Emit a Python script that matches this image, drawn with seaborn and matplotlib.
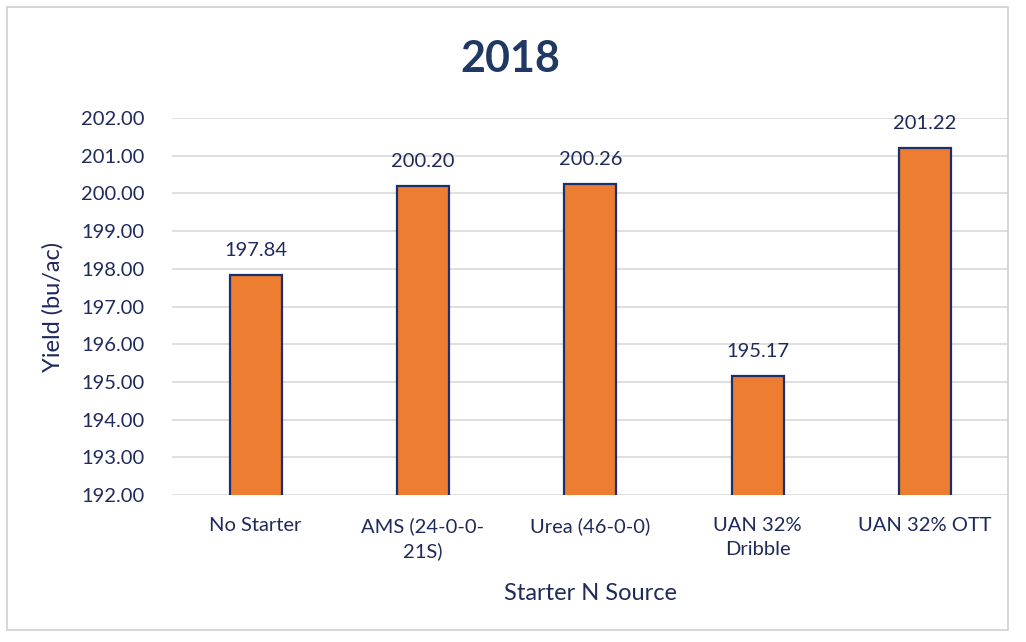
import matplotlib
matplotlib.use("Agg")
import matplotlib.pyplot as plt
import seaborn as sns
import pandas as pd
from matplotlib.patches import Rectangle

# data
sources = ["No Starter", "AMS (24-0-0-\n21S)", "Urea (46-0-0)", "UAN 32%\nDribble", "UAN 32% OTT"]
yields = [197.84, 200.20, 200.26, 195.17, 201.22]
yticks = [192, 193, 194, 195, 196, 197, 198, 199, 200, 201, 202]

df = pd.DataFrame({"source": sources, "yield": yields})

sns.set_style("white")
plt.rcParams["font.family"] = ["Lato", "DejaVu Sans"]
navy = "#1f2a5c"

fig = plt.figure(figsize=(10.26, 6.42), dpi=100)
ax = fig.add_axes([0.1676, 0.229, 0.8157, 0.587])

sns.barplot(data=df, x="source", y="yield", color="#ED7D31", width=0.31,
            edgecolor="#1a2f6b", linewidth=1.6, saturation=1, ax=ax, zorder=3)

ax.set_ylim(192, 202)
ax.set_yticks(yticks)
ax.set_yticklabels([f"{t:.2f}" for t in yticks])
ax.grid(axis="y", color="#d9d9d9", linewidth=1.2, zorder=0)
for s in ax.spines.values():
    s.set_visible(False)
ax.tick_params(axis="both", length=0, labelsize=14.5, labelcolor=navy)
ax.tick_params(axis="x", pad=16)
ax.tick_params(axis="y", pad=20)
for lbl in ax.get_xticklabels():
    lbl.set_linespacing(1.5)

for i, v in enumerate(yields):
    ax.text(i, v + 0.42, f"{v:.2f}", ha="center", va="bottom", fontsize=14.5, color=navy)

ax.set_xlabel("Starter N Source", fontsize=17, color=navy, labelpad=16)
ax.set_ylabel("Yield (bu/ac)", fontsize=17, color=navy, labelpad=12)
fig.text(0.497, 0.908, "2018", ha="center", va="center", fontsize=31,
         fontweight="bold", color="#1f3864")

fig.patches.append(Rectangle((7 / 1026, 12 / 642), 1001 / 1026, 623 / 642,
                             transform=fig.transFigure, fill=False,
                             edgecolor="#d0d0d0", linewidth=1.2))

fig.savefig("out.png", dpi=100)
